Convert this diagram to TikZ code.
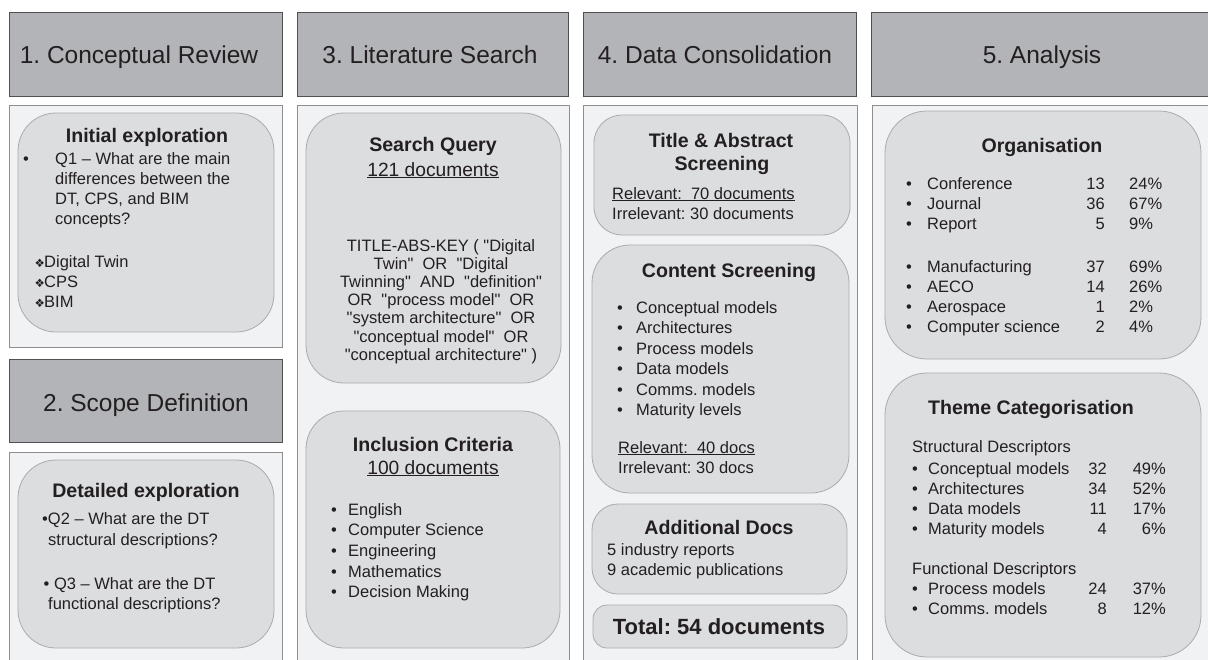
\documentclass[tikz,border=0pt]{standalone}
\usepackage{fontspec}
\setmainfont{Liberation Sans}
\newfontfamily\dingfont{DejaVu Sans}
\newfontfamily\qfont{Liberation Sans}[Ligatures=TeXOff]
\usetikzlibrary{fit}
\frenchspacing

\definecolor{ink}{HTML}{231F20}
\definecolor{hdrfill}{HTML}{B3B4B8}
\definecolor{hdrline}{HTML}{505052}
\definecolor{panelfill}{HTML}{F1F2F4}
\definecolor{panelline}{HTML}{8E8E90}
\definecolor{rfill}{HTML}{DCDDDF}
\definecolor{rline}{HTML}{ABABAD}

% bullet set in a box of the given width, text follows
\newcommand\bul[1]{\makebox[#1][l]{•}}
% diamond sub-bullet
\newcommand\dia{\makebox[9.5pt][l]{\dingfont\fontsize{11.5}{14}\selectfont ❖}}
% straight double quote (no TeX quote mapping)
\newcommand\qt{{\qfont\symbol{34}}}

\tikzset{
  hdr/.style={draw=hdrline, fill=hdrfill, line width=1pt, inner sep=0pt},
  panel/.style={draw=panelline, fill=panelfill, line width=0.8pt, inner sep=0pt},
  rbox/.style={draw=rline, fill=rfill, line width=0.8pt, inner sep=0pt, rounded corners=38pt},
  htxt/.style={anchor=base, inner sep=0pt, text=ink, font=\fontsize{24.5}{29}\selectfont},
  ttl/.style={anchor=base, inner sep=0pt, text=ink, font=\fontsize{19.6}{23}\selectfont\bfseries},
  txt/.style={anchor=base west, inner sep=0pt, text=ink, font=\fontsize{16.5}{20}\selectfont},
  ctxt/.style={txt, anchor=base},
  num/.style={txt, anchor=base east},
  cnt/.style={anchor=base, inner sep=0pt, text=ink, font=\fontsize{19.2}{23}\selectfont},
}

\begin{document}
\begin{tikzpicture}[x=1pt, y=-1pt]
\useasboundingbox (0,0) rectangle (1208,659);
\clip (0,0) rectangle (1208,659);
\fill[white] (0,0) rectangle (1208,659);

% ---------- column 1: conceptual review / scope definition ----------
\node[hdr, fit={(9,12) (282,96)}] (h1) {};
\node[htxt] (h1t) at (139,63) {1. Conceptual Review};
\node[panel, fit={(9,105) (282,347)}] (p1) {};
\node[rbox, fit={(18,113) (274,332)}] (b1) {};
\node[ttl] (b1t) at (147,142) {Initial exploration};
\node[txt] (b1a) at (23,164) {\bul{32pt}Q1 – What are the main};
\node[txt] (b1b) at (55,184) {differences between the};
\node[txt] (b1c) at (55,204) {DT, CPS, and BIM};
\node[txt] (b1d) at (55,224) {concepts?};
\node[txt] (b1e) at (34.5,267) {\dia Digital Twin};
\node[txt] (b1f) at (34.5,287) {\dia CPS};
\node[txt] (b1g) at (34.5,307) {\dia BIM};

\node[hdr, fit={(9,359) (282,442)}] (h2) {};
\node[htxt] (h2t) at (146,411) {2. Scope Definition};
\node[panel, fit={(9,452) (282,680)}] (p2) {};
\node[rbox, fit={(18,460) (274,648)}] (b2) {};
\node[ttl] (b2t) at (146,497) {Detailed exploration};
\node[txt] (b2a) at (42,524) {•Q2 – What are the DT};
\node[txt] (b2b) at (48,545) {structural descriptions?};
\node[txt] (b2c) at (43.5,589) {• Q3 – What are the DT};
\node[txt] (b2d) at (48,609) {functional descriptions?};

% ---------- column 2: literature search ----------
\node[hdr, fit={(297,12) (568,96)}] (h3) {};
\node[htxt] (h3t) at (430,63) {3. Literature Search};
\node[panel, fit={(297,105) (569,680)}] (p3) {};
\node[rbox, fit={(306,113) (561,383)}] (b3) {};
\node[ttl] (b3t) at (433,151) {Search Query};
\node[cnt] (b3n) at (433,176) {\underline{121 documents}};
\node[ctxt] (q1) at (441,251) {TITLE-ABS-KEY ( \qt Digital};
\node[ctxt] (q2) at (441,269.2) {Twin\qt\ \ OR\ \ \qt Digital};
\node[ctxt] (q3) at (441,287.4) {Twinning\qt\ \ AND\ \ \qt definition\qt};
\node[ctxt] (q4) at (441,305.6) {OR\ \ \qt process model\qt\ \ OR};
\node[ctxt] (q5) at (441,323.8) {\qt system architecture\qt\ \ OR};
\node[ctxt] (q6) at (441,342) {\qt conceptual model\qt\ \ OR};
\node[ctxt] (q7) at (441,360.2) {\qt conceptual architecture\qt\ )};

\node[rbox, fit={(306,411) (560,648)}] (b4) {};
\node[ttl] (b4t) at (433,451) {Inclusion Criteria};
\node[cnt] (b4n) at (433,474) {\underline{100 documents}};
\node[txt] (ic1) at (331,515) {\bul{17pt}English};
\node[txt] (ic2) at (331,535.7) {\bul{17pt}Computer Science};
\node[txt] (ic3) at (331,556.4) {\bul{17pt}Engineering};
\node[txt] (ic4) at (331,577.1) {\bul{17pt}Mathematics};
\node[txt] (ic5) at (331,597.8) {\bul{17pt}Decision Making};

% ---------- column 3: data consolidation ----------
\node[hdr, fit={(583,12) (856,96)}] (h4) {};
\node[htxt] (h4t) at (715,63) {4. Data Consolidation};
\node[panel, fit={(583,105) (857,680)}] (p4) {};
\node[rbox, rounded corners=28pt, fit={(594,115) (850,235)}] (b5) {};
\node[ttl] (b5t) at (721,147) {Title \& Abstract};
\node[ttl] (b5u) at (722,170) {Screening};
\node[txt] (b5a) at (612,199) {\underline{Relevant:\ \ 70 documents}};
\node[txt] (b5b) at (612,219) {Irrelevant: 30 documents};

\node[rbox, fit={(592,245) (849,493)}] (b6) {};
\node[ttl] (b6t) at (729,277) {Content Screening};
\node[txt] (cs1) at (617,313) {\bul{19pt}Conceptual models};
\node[txt] (cs2) at (617,333.5) {\bul{19pt}Architectures};
\node[txt] (cs3) at (617,354) {\bul{19pt}Process models};
\node[txt] (cs4) at (617,374.5) {\bul{19pt}Data models};
\node[txt] (cs5) at (617,395) {\bul{19pt}Comms. models};
\node[txt] (cs6) at (617,415.5) {\bul{19pt}Maturity levels};
\node[txt] (b6a) at (618,453) {\underline{Relevant:\ \ 40 docs}};
\node[txt] (b6b) at (618,473) {Irrelevant: 30 docs};

\node[rbox, rounded corners=26pt, fit={(592,504) (847,594)}] (b7) {};
\node[ttl] (b7t) at (719,534) {Additional Docs};
\node[txt] (b7a) at (607,555) {5 industry reports};
\node[txt] (b7b) at (607,575) {9 academic publications};

\node[rbox, rounded corners=14pt, fit={(593,605) (847,648)}] (b8) {};
\node[ttl, font=\fontsize{22}{26}\selectfont\bfseries] (b8t) at (719,634) {Total: 54 documents};

% ---------- column 4: analysis ----------
\node[hdr, fit={(871,12) (1214,96)}] (h5) {};
\node[htxt] (h5t) at (1042,63) {5. Analysis};
\node[panel, fit={(872,105) (1220,680)}] (p5) {};

\node[rbox, rounded corners=42pt, fit={(885,111) (1201,359)}] (b9) {};
\node[ttl] (b9t) at (1042,152.5) {Organisation};
\node[txt] (o1) at (906,189) {\bul{21pt}Conference};
\node[txt] (o2) at (906,209) {\bul{21pt}Journal};
\node[txt] (o3) at (906,229) {\bul{21pt}Report};
\node[txt] (o4) at (906,272) {\bul{21pt}Manufacturing};
\node[txt] (o5) at (906,292) {\bul{21pt}AECO};
\node[txt] (o6) at (906,312) {\bul{21pt}Aerospace};
\node[txt] (o7) at (906,332) {\bul{21pt}Computer science};
\node[num] (o1n) at (1105,189) {13};
\node[num] (o2n) at (1105,209) {36};
\node[num] (o3n) at (1105,229) {5};
\node[num] (o4n) at (1105,272) {37};
\node[num] (o5n) at (1105,292) {14};
\node[num] (o6n) at (1105,312) {1};
\node[num] (o7n) at (1105,332) {2};
\node[txt] (o1p) at (1129,189) {24\%};
\node[txt] (o2p) at (1129,209) {67\%};
\node[txt] (o3p) at (1129,229) {9\%};
\node[txt] (o4p) at (1129,272) {69\%};
\node[txt] (o5p) at (1129,292) {26\%};
\node[txt] (o6p) at (1129,312) {2\%};
\node[txt] (o7p) at (1129,332) {4\%};

\node[rbox, rounded corners=42pt, fit={(885,373) (1201,657)}] (b10) {};
\node[ttl] (b10t) at (1031,414) {Theme Categorisation};
\node[txt] (s0) at (912,452) {Structural Descriptors};
\node[txt] (s1) at (912,474) {\bul{16pt}Conceptual models};
\node[txt] (s2) at (912,494) {\bul{16pt}Architectures};
\node[txt] (s3) at (912,514) {\bul{16pt}Data models};
\node[txt] (s4) at (912,534) {\bul{16pt}Maturity models};
\node[txt] (f0) at (912,574) {Functional Descriptors};
\node[txt] (f1) at (912,594) {\bul{16pt}Process models};
\node[txt] (f2) at (912,614) {\bul{16pt}Comms. models};
\node[num] (s1n) at (1107,474) {32};
\node[num] (s2n) at (1107,494) {34};
\node[num] (s3n) at (1107,514) {11};
\node[num] (s4n) at (1107,534) {4};
\node[num] (f1n) at (1107,594) {24};
\node[num] (f2n) at (1107,614) {8};
\node[num] (s1p) at (1166,474) {49\%};
\node[num] (s2p) at (1166,494) {52\%};
\node[num] (s3p) at (1166,514) {17\%};
\node[num] (s4p) at (1166,534) {6\%};
\node[num] (f1p) at (1166,594) {37\%};
\node[num] (f2p) at (1166,614) {12\%};
\end{tikzpicture}
\end{document}
